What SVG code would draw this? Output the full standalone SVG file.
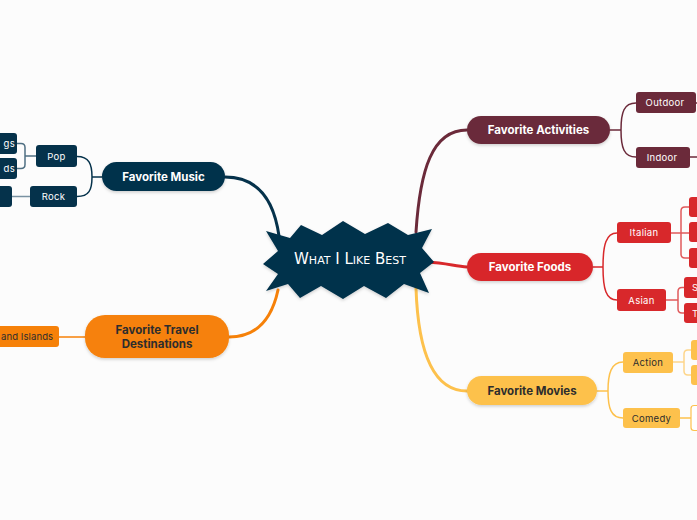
<svg xmlns="http://www.w3.org/2000/svg" width="697" height="520" viewBox="0 0 697 520">
<defs>
<filter id="sh" x="-20%" y="-30%" width="140%" height="170%">
<feDropShadow dx="0" dy="1.5" stdDeviation="1.5" flood-color="#000" flood-opacity="0.18"/>
</filter>
<style>
.main{font-family:Inter,"Noto Sans","Liberation Sans",sans-serif;font-size:11.5px;font-weight:700;text-anchor:middle;dominant-baseline:central}
.sub{font-family:Inter,"Noto Sans","Liberation Sans",sans-serif;font-size:9.5px;font-weight:400;text-anchor:middle;dominant-baseline:central;letter-spacing:0.3px}
.w{fill:#ffffff}
.d{fill:#2d2d2d}
.lk{fill:none;stroke-linecap:round}
.navy{fill:#05324b}
.maroon{fill:#6b2a3a}
.red{fill:#d8282b}
.orange{fill:#f68109}
.yellow{fill:#fdc14c}
</style>
</defs>
<rect width="697" height="520" fill="#fcfcfc"/>

<g id="connectors">
<path class="lk" d="M225,177 C258,177 274,200 279,236" stroke="#05324b" stroke-width="3"/>
<path class="lk" d="M229,337 C258,337 272,318 278,290" stroke="#f68109" stroke-width="3"/>
<path class="lk" d="M416,232 C420,170 432,130 467,130" stroke="#6b2a3a" stroke-width="3"/>
<path class="lk" d="M428,262 C445,263 455,266 467,267" stroke="#d8282b" stroke-width="3"/>
<path class="lk" d="M416,288 C418,350 432,391 467,391" stroke="#fdc14c" stroke-width="3"/>

<path class="lk" d="M102,177 H92 M77,156.5 C89,156.5 92,164 92,177 C92,190 89,196.5 77,196.5" stroke="#05324b" stroke-width="1.5"/>
<path class="lk" d="M36,156 H25 M17,143.5 H21 Q25,143.5 25,147.5 V164.5 Q25,168.5 21,168.5 H17" stroke="#4f6f82" stroke-width="1.5"/>
<path class="lk" d="M30,196.5 H12" stroke="#7a92a2" stroke-width="1.5"/>
<path class="lk" d="M85,337 H59" stroke="#f68109" stroke-width="1.5"/>

<path class="lk" d="M610,130 H621 M636,103 C624,103 621,112 621,130 C621,148 624,157 636,157" stroke="#6b2a3a" stroke-width="1.5"/>
<path class="lk" d="M696,103 H697 M690,157 H697" stroke="#6b2a3a" stroke-width="1.5"/>

<path class="lk" d="M593,267 H603 M617,233 C606,233 603,245 603,267 C603,289 606,300 617,300" stroke="#d8282b" stroke-width="1.5"/>
<path class="lk" d="M671,233 H689 M689,207 H685 Q681,207 681,211 V254 Q681,258 685,258 H689" stroke="#e0595b" stroke-width="1.5"/>
<path class="lk" d="M666,300 H678 M684,287.5 H682 Q678,287.5 678,291.5 V309 Q678,313 682,313 H684" stroke="#e0595b" stroke-width="1.5"/>

<path class="lk" d="M597,391 H608 M623,362 C611,362 608,374 608,391 C608,408 611,418 623,418" stroke="#fdc14c" stroke-width="1.5"/>
<path class="lk" d="M673,362 H684 M691,350 H688 Q684,350 684,354 V371 Q684,375 688,375 H691" stroke="#fdd58a" stroke-width="1.5"/>
<path class="lk" d="M680,418 H691" stroke="#fdc14c" stroke-width="1.5"/>
</g>

<g id="center">
<polygon filter="url(#sh)" fill="#05324b" points="266,231 290,238 301,225 322,235 343,221 365,234 388,223 408,235 432,229 422,248 434,262 420,273 429,293 404,284 386,298 364,286 343,299 321,286 300,298 288,284 266,291 278,274 263,264 278,251"/>
<text x="350" y="259" fill="#ffffff" font-family="'DejaVu Sans','Liberation Sans',sans-serif" font-weight="400" font-size="15" font-variant="small-caps" text-anchor="middle" dominant-baseline="central">What I Like Best</text>
</g>

<g id="music">
<rect class="navy" filter="url(#sh)" x="102" y="162" width="123" height="29" rx="14.5"/>
<text class="main w" x="163.5" y="177">Favorite Music</text>
</g>
<g id="pop">
<rect class="navy" x="36" y="145" width="41" height="22" rx="3"/>
<text class="sub w" x="56.5" y="156">Pop</text>
</g>
<g id="rock">
<rect class="navy" x="30" y="186" width="47" height="21" rx="3"/>
<text class="sub w" x="53.5" y="196.5">Rock</text>
</g>
<g id="pop-child-1">
<rect class="navy" x="-10" y="133" width="27" height="21" rx="3"/>
<text class="sub w" x="15" y="143.5" style="text-anchor:end">gs</text>
</g>
<g id="pop-child-2">
<rect class="navy" x="-10" y="158" width="27" height="21" rx="3"/>
<text class="sub w" x="15" y="168.5" style="text-anchor:end">ds</text>
</g>
<g id="rock-child">
<rect class="navy" x="-10" y="186" width="22" height="21" rx="3"/>
</g>

<g id="travel">
<rect class="orange" filter="url(#sh)" x="85" y="315" width="144" height="43" rx="20"/>
<text class="main d" x="157" y="330">Favorite Travel</text>
<text class="main d" x="157" y="344">Destinations</text>
</g>
<g id="travel-child">
<rect class="orange" x="-10" y="326" width="69" height="21" rx="3"/>
<text class="sub d" x="1" y="336.5" style="text-anchor:start;letter-spacing:0.1px">and Islands</text>
</g>

<g id="activities">
<rect class="maroon" filter="url(#sh)" x="467" y="116" width="143" height="28" rx="14"/>
<text class="main w" x="538.5" y="130">Favorite Activities</text>
</g>
<g id="outdoor">
<rect class="maroon" x="636" y="92" width="60" height="21" rx="3"/>
<text class="sub w" x="665" y="102.5">Outdoor</text>
</g>
<g id="indoor">
<rect class="maroon" x="636" y="147" width="54" height="21" rx="3"/>
<text class="sub w" x="662" y="157.5">Indoor</text>
</g>

<g id="foods">
<rect class="red" filter="url(#sh)" x="467" y="253" width="126" height="28" rx="14"/>
<text class="main w" x="530" y="267">Favorite Foods</text>
</g>
<g id="italian">
<rect class="red" x="617" y="222" width="54" height="21" rx="3"/>
<text class="sub w" x="644" y="232.5">Italian</text>
</g>
<g id="asian">
<rect class="red" x="617" y="289" width="49" height="22" rx="3"/>
<text class="sub w" x="641.5" y="300">Asian</text>
</g>
<g id="italian-child-1"><rect class="red" x="689" y="197" width="20" height="20" rx="3"/></g>
<g id="italian-child-2"><rect class="red" x="689" y="222" width="20" height="20" rx="3"/></g>
<g id="italian-child-3"><rect class="red" x="689" y="248" width="20" height="20" rx="3"/></g>
<g id="asian-child-1">
<rect class="red" x="684" y="277" width="25" height="21" rx="3"/>
<text class="sub w" x="692" y="287.5" style="text-anchor:start">S</text>
</g>
<g id="asian-child-2">
<rect class="red" x="684" y="303" width="25" height="20" rx="3"/>
<text class="sub w" x="692" y="313" style="text-anchor:start">T</text>
</g>

<g id="movies">
<rect class="yellow" filter="url(#sh)" x="467" y="376" width="130" height="29" rx="14.5"/>
<text class="main d" x="532" y="390.5">Favorite Movies</text>
</g>
<g id="action">
<rect class="yellow" x="623" y="352" width="50" height="21" rx="3"/>
<text class="sub d" x="648" y="362.5">Action</text>
</g>
<g id="comedy">
<rect class="yellow" x="623" y="408" width="57" height="20" rx="3"/>
<text class="sub d" x="651.5" y="418">Comedy</text>
</g>
<g id="action-child-1"><rect class="yellow" x="691" y="340" width="20" height="20" rx="3"/></g>
<g id="action-child-2"><rect class="yellow" x="691" y="365" width="20" height="20" rx="3"/></g>
<g id="comedy-child"><rect fill="#ffffff" stroke="#fdc14c" stroke-width="1.2" x="691" y="405.5" width="20" height="25" rx="3"/></g>
</svg>
